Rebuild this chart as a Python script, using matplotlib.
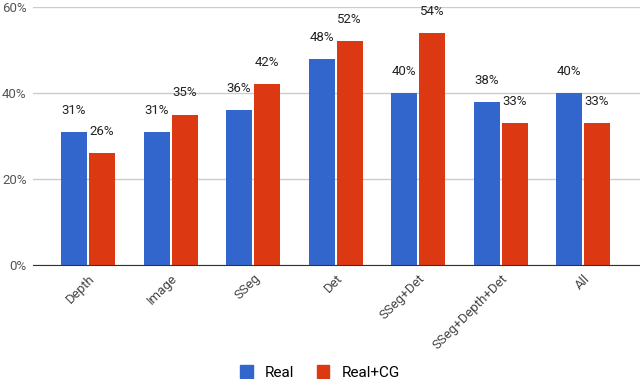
import matplotlib
matplotlib.use("Agg")
import matplotlib.pyplot as plt
from matplotlib.patches import Patch

categories = ["Depth", "Image", "SSeg", "Det", "SSeg+Det", "SSeg+Depth+Det", "All"]
real = [31, 31, 36, 48, 40, 38, 40]
real_cg = [26, 35, 42, 52, 54, 33, 33]
yticks = [0, 20, 40, 60]

BLUE = "#3366cc"
RED = "#dc3912"

plt.rcParams['font.family'] = ['Roboto', 'DejaVu Sans']

fig = plt.figure(figsize=(6.4, 3.79), dpi=100)
ax = fig.add_axes([0.0516, 0.3008, 0.9484, 0.6807])

x = list(range(len(categories)))
w = 0.315
off = 0.17
ax.bar([i - off for i in x], real, width=w, color=BLUE, zorder=3)
ax.bar([i + off for i in x], real_cg, width=w, color=RED, zorder=3)

for i in x:
    ax.annotate(f"{real[i]}%", (i - off, real[i]), xytext=(0, 15.5), textcoords="offset points",
                ha="center", va="center", fontsize=9.5, color="#222222")
    ax.annotate(f"{real_cg[i]}%", (i + off, real_cg[i]), xytext=(0, 15.5), textcoords="offset points",
                ha="center", va="center", fontsize=9.5, color="#222222")

ax.set_ylim(0, 60)
ax.set_xlim(-0.667, 6.69)
ax.set_yticks(yticks)
ax.set_yticklabels([f"{v}%" for v in yticks], fontsize=9.5, color="#555555")
ax.set_xticks(x)
ax.set_xticklabels(categories, rotation=45, ha="right", rotation_mode="anchor",
                   fontsize=9.5, color="#444444")
ax.tick_params(axis="both", length=0)
ax.tick_params(axis="x", pad=5)
ax.tick_params(axis="y", pad=4.5)
ax.grid(axis="y", color="#cccccc", linewidth=1, zorder=0)
for s in ["top", "right", "left"]:
    ax.spines[s].set_visible(False)
ax.spines["bottom"].set_color("#333333")
ax.spines["bottom"].set_zorder(4)

handles = [Patch(color=BLUE, label="Real"), Patch(color=RED, label="Real+CG")]
fig.legend(handles=handles, loc="center", bbox_to_anchor=(0.5, 0.018), ncol=2, frameon=False,
           fontsize=11, handlelength=0.8, handleheight=1.0, handletextpad=0.8, columnspacing=1.5)

fig.savefig("out.png", dpi=100)
